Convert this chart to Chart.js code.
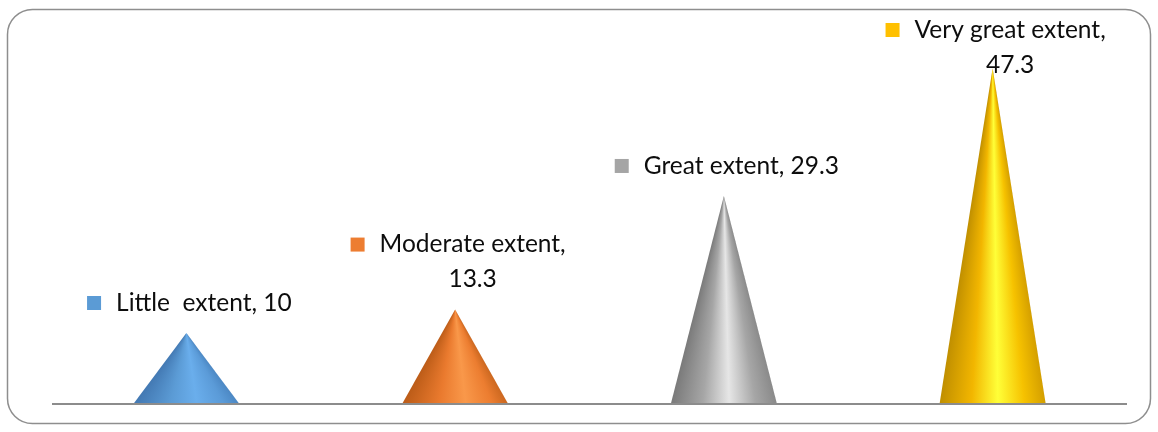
<!DOCTYPE html>
<html>
<head>
<meta charset="utf-8">
<script src="https://cdn.jsdelivr.net/npm/chart.js@4.4.1/dist/chart.umd.min.js"></script>
<style>
  html, body { margin: 0; padding: 0; background: #fff; }
  #wrap { width: 1158px; height: 432px; position: relative; }
</style>
</head>
<body>
<div id="wrap"><canvas id="c"></canvas></div>
<script>
// Survey responses by extent (percent)
const categories = ['Little  extent', 'Moderate extent', 'Great extent', 'Very great extent'];
const values = [10, 13.3, 29.3, 47.3];

// Series colours and cone shading stops (left edge -> right edge)
const colors = ['#5b9bd5', '#ed7d31', '#a5a5a5', '#ffc000'];
const shading = [
  [[0, '#4379b3'], [0.35, '#5b9bd5'], [0.6, '#6aaeec'], [0.85, '#5b9bd8'], [1, '#4c88c4']],
  [[0, '#bc5c18'], [0.35, '#ea7a2e'], [0.6, '#f9984a'], [0.85, '#ec7d30'], [1, '#cc6820']],
  [[0, '#7a7a7a'], [0.3, '#a6a6a6'], [0.55, '#e6e6e6'], [0.8, '#a6a6a6'], [1, '#8a8a8a']],
  [[0, '#c08f00'], [0.3, '#f2b600'], [0.55, '#ffff38'], [0.8, '#f6c200'], [1, '#d49f00']]
];

const FONT = '24.5px Lato, "Open Sans", sans-serif';
const LINE_H = 35;
const MARK = 14;
const MARK_GAP = 15;
const WRAP_AT = 222;

// Frame around the whole chart
const framePlugin = {
  id: 'frame',
  beforeDraw(chart) {
    const ctx = chart.ctx;
    ctx.save();
    ctx.fillStyle = '#fff';
    ctx.fillRect(0, 0, chart.width, chart.height);
    ctx.beginPath();
    ctx.roundRect(7.5, 9.5, 1143, 414, 25);
    ctx.strokeStyle = '#8e8e8e';
    ctx.lineWidth = 1.5;
    ctx.stroke();
    ctx.restore();
  }
};

// Cones drawn over each bar element, plus baseline and data labels
const conePlugin = {
  id: 'cones',
  afterDatasetsDraw(chart) {
    const ctx = chart.ctx;
    const meta = chart.getDatasetMeta(0);
    const area = chart.chartArea;
    const y0 = chart.scales.y.getPixelForValue(0);

    meta.data.forEach((bar, i) => {
      const xc = bar.x, top = bar.y, base = bar.base, w = bar.width;
      const left = xc - w / 2, right = xc + w / 2, h = base - top;
      const a1 = Math.atan2(h, w / 2);
      const grad = ctx.createConicGradient(a1, xc, top);
      shading[i].forEach(([t, col]) => {
        const ang = Math.atan2(h, (left + t * w) - xc);
        grad.addColorStop(Math.min(1, Math.max(0, (ang - a1) / (Math.PI * 2))), col);
      });
      ctx.save();
      ctx.beginPath();
      ctx.moveTo(xc, top);
      ctx.lineTo(right, base);
      ctx.lineTo(left, base);
      ctx.closePath();
      ctx.fillStyle = grad;
      ctx.fill();
      ctx.restore();
    });

    // category axis line
    ctx.save();
    ctx.beginPath();
    ctx.moveTo(area.left, y0);
    ctx.lineTo(area.right, y0);
    ctx.strokeStyle = '#8c8c8c';
    ctx.lineWidth = 2;
    ctx.stroke();
    ctx.restore();

    // data labels: legend key + "category, value"
    ctx.save();
    ctx.font = FONT;
    ctx.textBaseline = 'middle';
    ctx.textAlign = 'center';
    meta.data.forEach((bar, i) => {
      const full = categories[i] + ', ' + values[i];
      let lines = [full];
      if (ctx.measureText(full).width > WRAP_AT) {
        lines = [categories[i] + ',', String(values[i])];
      }
      const textW = Math.max(...lines.map(l => ctx.measureText(l).width));
      const blockW = MARK + MARK_GAP + textW;
      const bx = bar.x - blockW / 2 + 3;
      let firstY = bar.y - 30 - (lines.length - 1) * LINE_H;
      if (firstY < 30) firstY = 30;
      ctx.fillStyle = colors[i];
      ctx.fillRect(bx, firstY - MARK / 2, MARK, MARK);
      ctx.fillStyle = '#0d0d0d';
      const tx = bx + MARK + MARK_GAP + textW / 2;
      lines.forEach((l, k) => ctx.fillText(l, tx, firstY + k * LINE_H));
    });
    ctx.restore();
  }
};

new Chart(document.getElementById('c'), {
  type: 'bar',
  data: {
    labels: categories,
    datasets: [{
      data: values,
      backgroundColor: 'rgba(0,0,0,0)',
      borderWidth: 0,
      categoryPercentage: 1,
      barPercentage: 0.395
    }]
  },
  options: {
    responsive: true,
    maintainAspectRatio: false,
    animation: false,
    layout: { padding: { left: 52, right: 31, top: 49, bottom: 28 } },
    plugins: { legend: { display: false }, tooltip: { enabled: false } },
    scales: {
      x: { display: false },
      y: { display: false, min: 0, max: 50 }
    }
  },
  plugins: [framePlugin, conePlugin]
});
</script>
</body>
</html>
